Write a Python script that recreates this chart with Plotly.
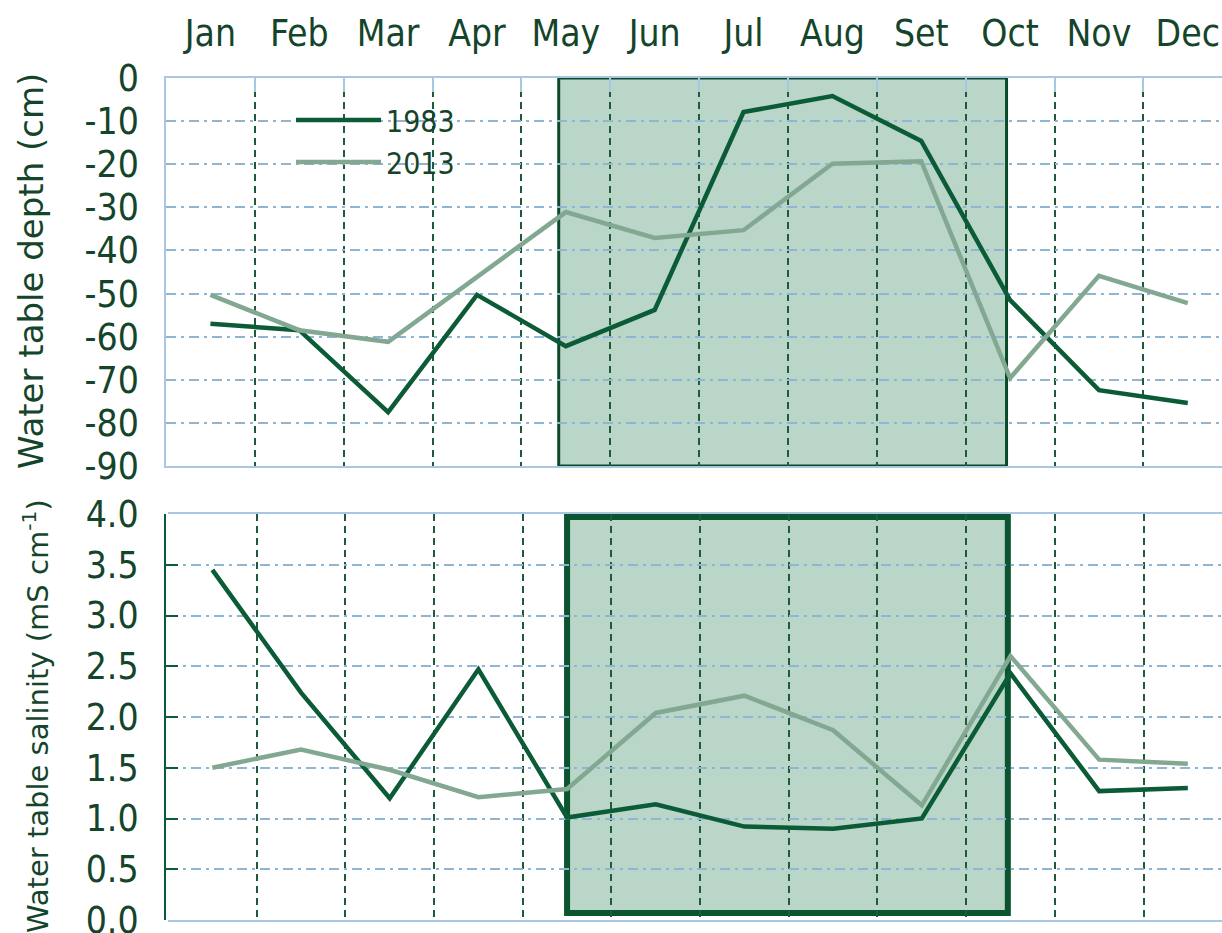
import plotly.graph_objects as go

months = ["Jan", "Feb", "Mar", "Apr", "May", "Jun", "Jul", "Aug", "Set", "Oct", "Nov", "Dec"]
depth_1983 = [-57, -58.5, -77.5, -50.3, -62.2, -53.8, -7.9, -4.2, -14.6, -51.5, -72.4, -75.4]
depth_2013 = [-50.3, -58.5, -61.2, -46, -31.1, -37.1, -35.3, -19.9, -19.3, -69.6, -45.9, -52.2]
sal_1983 = [3.45, 2.24, 1.20, 2.47, 1.01, 1.14, 0.92, 0.90, 1.00, 2.43, 1.27, 1.30]
sal_2013 = [1.50, 1.68, 1.48, 1.21, 1.29, 2.04, 2.21, 1.87, 1.13, 2.60, 1.58, 1.54]
depth_ticks = [0, -10, -20, -30, -40, -50, -60, -70, -80, -90]
sal_ticks = [0.0, 0.5, 1.0, 1.5, 2.0, 2.5, 3.0, 3.5, 4.0]
wet_season = [3.92, 8.96]          # shaded May-Sep span (category units), top panel
wet_season_bottom = [4.0, 8.97]    # bottom panel
wet_season_bottom_y = [0.07, 3.97]

C1983 = "#0b5c36"
C2013 = "#83a892"
TXT = "#14452b"
DKGRID = "#1f5a3a"
BLUE = "#8fb5d5"
AXBLUE = "#a9c6e2"
NARROW = "Liberation Sans Narrow, DejaVu Sans Condensed, Roboto, sans-serif"
WIDE = "DejaVu Sans, Verdana, sans-serif"

x = list(range(len(months)))
bounds = [i + 0.5 for i in range(len(months) - 1)]

fig = go.Figure()
fig.add_trace(go.Scatter(x=x, y=depth_1983, mode="lines", name="1983",
                         line=dict(color=C1983, width=4.5), xaxis="x", yaxis="y"))
fig.add_trace(go.Scatter(x=x, y=depth_2013, mode="lines", name="2013",
                         line=dict(color=C2013, width=4.5), xaxis="x", yaxis="y"))
fig.add_trace(go.Scatter(x=x, y=sal_1983, mode="lines", name="1983", showlegend=False,
                         line=dict(color=C1983, width=4.5), xaxis="x2", yaxis="y2"))
fig.add_trace(go.Scatter(x=x, y=sal_2013, mode="lines", name="2013", showlegend=False,
                         line=dict(color=C2013, width=4.5), xaxis="x2", yaxis="y2"))

xr = [-0.5, 11.385]


def xaxis_common(left_px, top_ticks):
    minor = dict(tickvals=bounds, showgrid=True, griddash="7px,5px",
                 gridcolor=DKGRID, gridwidth=1.5)
    if top_ticks:
        minor.update(ticks="inside", ticklen=14, tickcolor=AXBLUE, tickwidth=1.5)
    return dict(range=xr, domain=[left_px / 1222, 1.0], showgrid=False, zeroline=False,
                tickvals=x, ticktext=months, automargin=False,
                showline=True, linecolor=AXBLUE, linewidth=1.5, mirror=True, minor=minor)


fig.update_layout(
    width=1222, height=933,
    margin=dict(l=0, r=0, t=0, b=0, autoexpand=False),
    paper_bgcolor="white", plot_bgcolor="white",
    font=dict(family=NARROW, color=TXT, size=36),
    xaxis=dict(**xaxis_common(166, True), anchor="y", side="top", showticklabels=True,
               ticks="", ticklabelstandoff=15, ticklabeloverflow="allow",
               tickfont=dict(family=NARROW, size=37, color=TXT)),
    xaxis2=dict(**xaxis_common(168, False), anchor="y2", showticklabels=False),
    yaxis=dict(domain=[1 - 466 / 933, 1 - 78 / 933], range=[-90, 0], automargin=False,
               tickvals=depth_ticks, ticktext=[str(v) for v in depth_ticks],
               showgrid=True, gridcolor=BLUE, gridwidth=1.5, griddash="10px,5px,3px,5px",
               zeroline=False, showline=True, linecolor=AXBLUE, linewidth=1.5,
               ticks="", ticklabelstandoff=18, ticklabeloverflow="allow",
               tickfont=dict(family=NARROW, size=37, color=TXT)),
    yaxis2=dict(domain=[1 - 920 / 933, 1 - 514 / 933], range=[0, 4], automargin=False,
                tickvals=sal_ticks, tickformat=".1f",
                showgrid=True, gridcolor=BLUE, gridwidth=1.5, griddash="10px,5px,3px,5px",
                zeroline=False, showline=True, linecolor=C1983, linewidth=2,
                ticks="inside", ticklen=12, tickcolor=C1983, tickwidth=2,
                ticklabelstandoff=18, ticklabeloverflow="allow",
                tickfont=dict(family=NARROW, size=37, color=TXT)),
    legend=dict(x=291 / 1222, y=1 - 94 / 933, xanchor="left", yanchor="top",
                bgcolor="rgba(255,255,255,0)", font=dict(family=NARROW, size=30, color=TXT),
                itemwidth=85, tracegroupgap=0),
    showlegend=True,
)

fig.add_shape(type="rect", xref="x", yref="y domain", x0=wet_season[0], x1=wet_season[1],
              y0=0, y1=1, fillcolor="#b9d6c9", line=dict(color="#0a4a2a", width=3), layer="below")
fig.add_shape(type="rect", xref="x2", yref="y2", x0=wet_season_bottom[0], x1=wet_season_bottom[1],
              y0=wet_season_bottom_y[0], y1=wet_season_bottom_y[1], fillcolor="#b9d6c9",
              line=dict(color="#0a5530", width=6), layer="below")

fig.add_annotation(text="Water table depth (cm)", textangle=-90, xref="paper", yref="paper",
                   x=31 / 1222, y=1 - 271 / 933, xanchor="center", yanchor="middle",
                   showarrow=False, font=dict(family=WIDE, size=34, color=TXT))
fig.add_annotation(text="Water table salinity (mS cm<sup>-1</sup>)", textangle=-90,
                   xref="paper", yref="paper",
                   x=36 / 1222, y=1 - 716 / 933, xanchor="center", yanchor="middle",
                   showarrow=False, font=dict(family=WIDE, size=29, color=TXT))

fig.write_html("out.html", config={"displayModeBar": False},
               post_script="document.body.style.margin='0px';")
